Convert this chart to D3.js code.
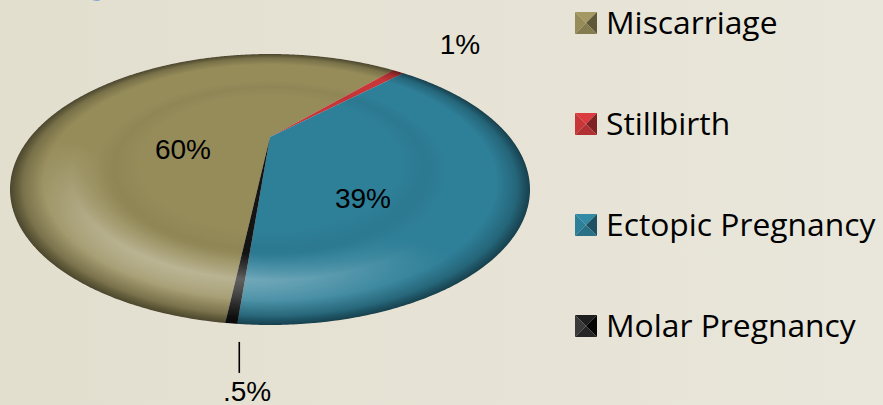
<!DOCTYPE html>
<html><head><meta charset="utf-8">
<script src="https://cdn.jsdelivr.net/npm/d3@7"></script>
<style>html,body{margin:0;padding:0;overflow:hidden;background:#e4e0d1}</style>
</head><body>
<script>
const categories = ["Miscarriage", "Stillbirth", "Ectopic Pregnancy", "Molar Pregnancy"];
const values = [60, 1, 39, 0.5];
const valueLabels = ["60%", "1%", "39%", ".5%"];
const colors = ["#968c5a", "#c8363a", "#2e7f98", "#141414"];
const titleText = "Pregnancy";

const W = 883, H = 405;
const svg = d3.select("body").append("svg").attr("width", W).attr("height", H);
const defs = svg.append("defs");

// background
const bg = defs.append("linearGradient").attr("id", "bg").attr("x1", 0).attr("x2", 1).attr("y1", 0).attr("y2", 0);
bg.append("stop").attr("offset", 0).attr("stop-color", "#e3dfcf");
bg.append("stop").attr("offset", 1).attr("stop-color", "#e9e6db");
svg.append("rect").attr("width", W).attr("height", H).attr("fill", "url(#bg)");

// partially visible title (cut by the top edge, as in the source)
svg.append("text").attr("x", 22).attr("y", -7).attr("font-family", "Lato").attr("font-weight", "bold")
  .attr("font-size", 42).attr("fill", "#3b7fd4").text(titleText);

// pie geometry: perspective-tilted disc
const sx = d3.scaleLinear().domain([-1, 1]).range([10, 530]);
const sy = d3.scaleLinear().domain([-1, 1]).range([54, 325]);
const tilt = -0.387;
const g = Math.sqrt(1 - tilt * tilt);
function proj(a, r) {
  const ux = r * Math.sin(a), uy = -r * Math.cos(a);
  const d = 1 + tilt * uy;
  return [sx(ux * g / d), sy((uy + tilt) / d)];
}
const start = 186.6 * Math.PI / 180;
const pie = d3.pie().sort(null).value(d => d).startAngle(start).endAngle(start + 2 * Math.PI);
const arcs = pie(values);
const line = d3.line();
function slicePath(a0, a1) {
  const pts = [proj(0, 0)];
  const n = Math.max(2, Math.ceil((a1 - a0) / 0.005));
  for (let i = 0; i <= n; i++) pts.push(proj(a0 + (a1 - a0) * i / n, 1));
  return line(pts) + "Z";
}
const fullPts = d3.range(0, 721).map(i => proj(i * Math.PI / 360, 1));
const outline = line(fullPts) + "Z";

defs.append("clipPath").attr("id", "disc").append("path").attr("d", outline);

// gradients for bevel shading
const bb = { x: sx(-1), y: sy(-1), w: sx(1) - sx(-1), h: sy(1) - sy(-1) };
const fy = (proj(0, 0)[1] - bb.y) / bb.h;
function radial(id, stops, color) {
  const r = defs.append("radialGradient").attr("id", id)
    .attr("cx", 0.5).attr("cy", 0.5).attr("r", 0.5).attr("fx", 0.5).attr("fy", fy);
  stops.forEach(s => r.append("stop").attr("offset", s[0]).attr("stop-color", color).attr("stop-opacity", s[1]));
}
radial("rim", [[0, 0], [0.87, 0], [0.95, 0.2], [1, 0.5]], "#000");
radial("hi", [[0, 0], [0.62, 0], [0.76, 0.42], [0.88, 0.14], [0.97, 0]], "#fff");
radial("inner", [[0, 0], [0.5, 0], [0.6, 0.05], [0.68, 0]], "#000");
const mg = defs.append("linearGradient").attr("id", "mg").attr("x1", 0.75).attr("x2", 0.3).attr("y1", 0.2).attr("y2", 1);
mg.append("stop").attr("offset", 0.45).attr("stop-color", "#fff").attr("stop-opacity", 0);
mg.append("stop").attr("offset", 0.85).attr("stop-color", "#fff").attr("stop-opacity", 1);
defs.append("mask").attr("id", "lowmask").attr("maskUnits", "userSpaceOnUse")
  .attr("x", 0).attr("y", 0).attr("width", W).attr("height", H)
  .append("rect").attr("x", bb.x).attr("y", bb.y).attr("width", bb.w).attr("height", bb.h).attr("fill", "url(#mg)");

const pieG = svg.append("g").attr("clip-path", "url(#disc)");
pieG.selectAll("path.slice").data(arcs).join("path").attr("class", "slice")
  .attr("d", d => slicePath(d.startAngle, d.endAngle))
  .attr("fill", (d, i) => colors[i]);
pieG.append("rect").attr("x", bb.x).attr("y", bb.y).attr("width", bb.w).attr("height", bb.h).attr("fill", "url(#inner)");
pieG.append("rect").attr("x", bb.x).attr("y", bb.y).attr("width", bb.w).attr("height", bb.h)
  .attr("fill", "url(#hi)").attr("mask", "url(#lowmask)");
pieG.append("rect").attr("x", bb.x).attr("y", bb.y).attr("width", bb.w).attr("height", bb.h).attr("fill", "url(#rim)");

// data labels
const labelLayout = [
  { x: 183, y: 159 },
  { x: 460, y: 54 },
  { x: 363, y: 208 },
  { x: 247, y: 401 }
];
svg.selectAll("text.lbl").data(arcs).join("text").attr("class", "lbl")
  .attr("x", (d, i) => labelLayout[i].x).attr("y", (d, i) => labelLayout[i].y)
  .attr("text-anchor", "middle")
  .attr("font-family", "Liberation Sans, Arial, sans-serif").attr("font-size", 28).attr("fill", "#000")
  .text((d, i) => valueLabels[i]);
// leader line for the molar slice
const mEdge = proj(arcs[3].startAngle, 1);
svg.append("line").attr("x1", mEdge[0] + 2).attr("x2", mEdge[0] + 2).attr("y1", mEdge[1] + 18).attr("y2", mEdge[1] + 49)
  .attr("stroke", "#000").attr("stroke-width", 1.6);

// legend
const legY = d3.scalePoint().domain(categories).range([23, 326]);
const lg = svg.append("g");
const sz = 22, lx = 575;
categories.forEach((c, i) => {
  const cy = legY(c), x0 = lx, y0 = cy - sz / 2, x1 = lx + sz, y1 = cy + sz / 2, mx = lx + sz / 2, my = cy;
  const base = d3.color(colors[i]);
  const tris = [
    { p: [[x0, y0], [x1, y0], [mx, my]], f: i === 3 ? "#1e1e1e" : base.brighter(0.25) },
    { p: [[x0, y0], [x0, y1], [mx, my]], f: i === 3 ? "#3a3a3a" : base },
    { p: [[x1, y0], [x1, y1], [mx, my]], f: i === 3 ? "#050505" : base.darker(1.3) },
    { p: [[x0, y1], [x1, y1], [mx, my]], f: i === 3 ? "#262626" : base.darker(0.35) }
  ];
  tris.forEach(t => lg.append("path").attr("d", line(t.p) + "Z").attr("fill", t.f));
  lg.append("text").attr("x", 606).attr("y", cy + 11).attr("font-family", "'Open Sans', sans-serif")
    .attr("font-size", 31.8).attr("fill", "#000").text(c);
});
</script>
</body></html>
